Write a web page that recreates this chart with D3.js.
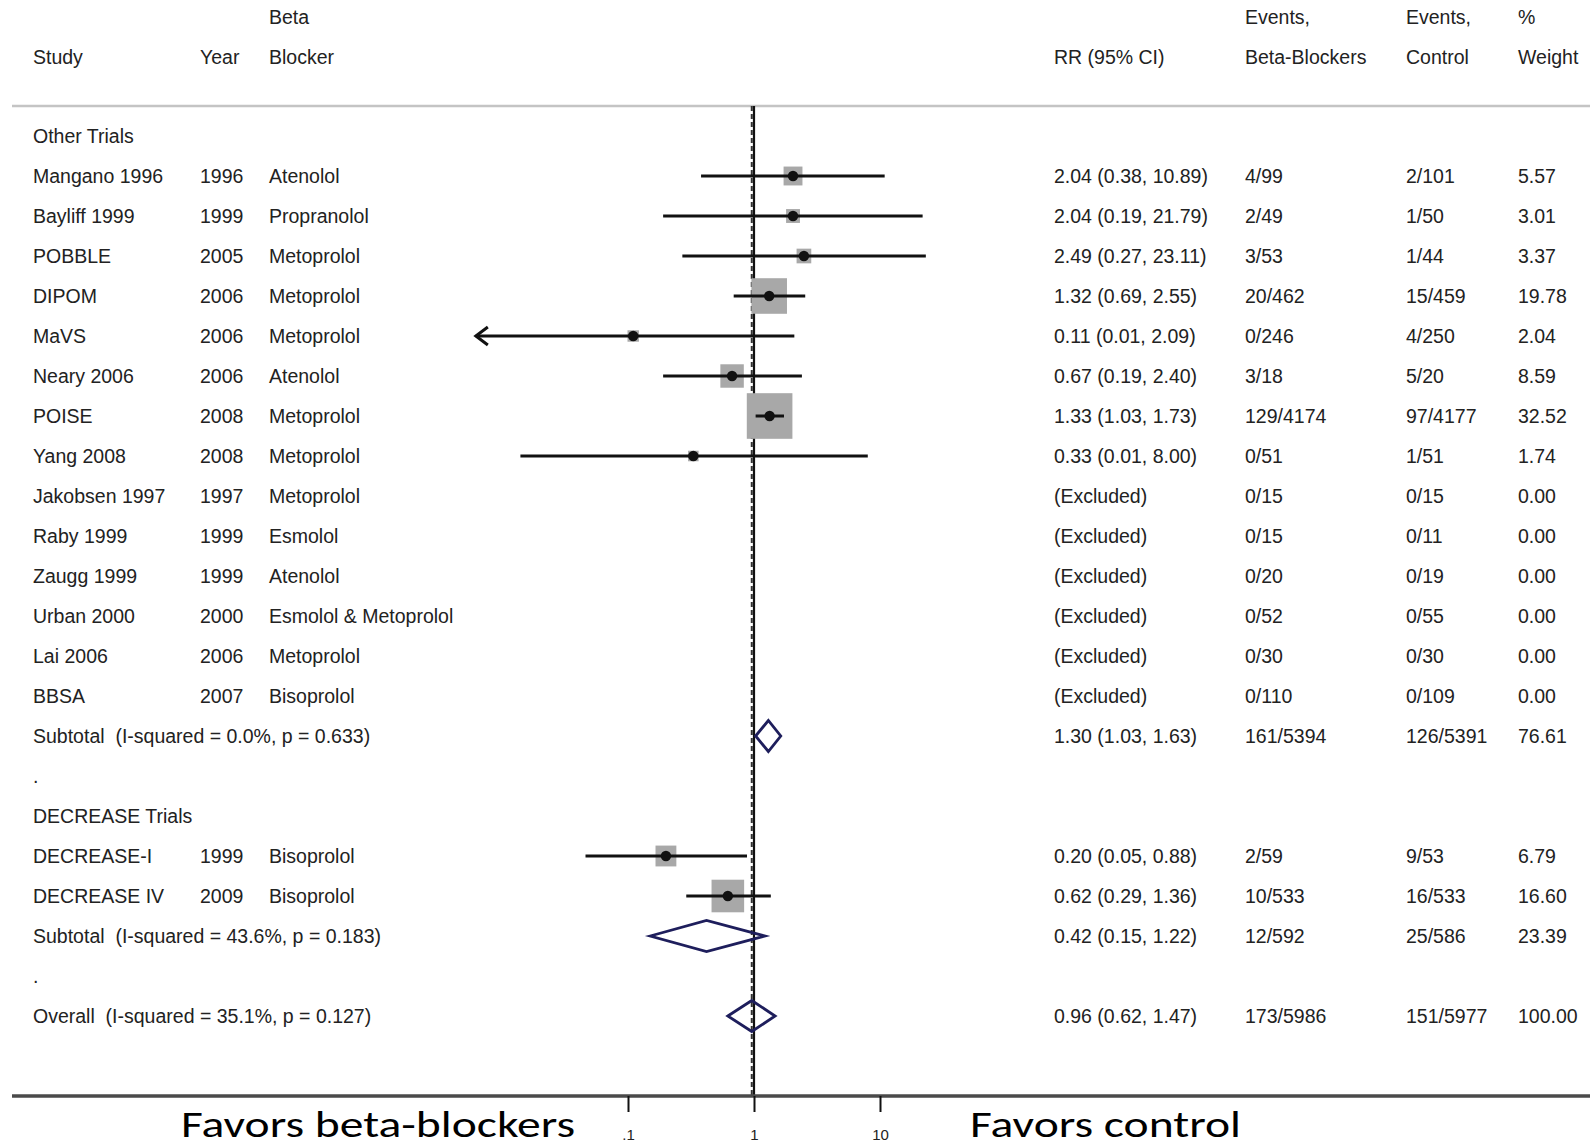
<!DOCTYPE html>
<html><head><meta charset="utf-8">
<script src="https://cdn.jsdelivr.net/npm/d3@7"></script>
<style>
body{margin:0;background:#fff;}
svg{display:block;}
text{font-family:"Liberation Sans",Arial,Helvetica,sans-serif;fill:#222;}
</style></head><body><svg id="chart" width="1590" height="1146"></svg>
<script>
// ---------------- DATA ----------------
const rowKind = ["group","study","study","study","study","study","study","study","study",
  "study","study","study","study","study","study","sub","blank","group","study","study","sub","blank","overall"];
const studyNames = ["Other Trials","Mangano 1996","Bayliff 1999","POBBLE","DIPOM","MaVS","Neary 2006","POISE","Yang 2008",
  "Jakobsen 1997","Raby 1999","Zaugg 1999","Urban 2000","Lai 2006","BBSA","Subtotal",".","DECREASE Trials",
  "DECREASE-I","DECREASE IV","Subtotal",".","Overall"];
const years = [null,1996,1999,2005,2006,2006,2006,2008,2008,1997,1999,1999,2000,2006,2007,null,null,null,1999,2009,null,null,null];
const blockers = [null,"Atenolol","Propranolol","Metoprolol","Metoprolol","Metoprolol","Atenolol","Metoprolol","Metoprolol",
  "Metoprolol","Esmolol","Atenolol","Esmolol & Metoprolol","Metoprolol","Bisoprolol",null,null,null,"Bisoprolol","Bisoprolol",null,null,null];
const rr     = [null,2.04,2.04,2.49,1.32,0.11,0.67,1.33,0.33,null,null,null,null,null,null,1.30,null,null,0.20,0.62,0.42,null,0.96];
const ciLow  = [null,0.38,0.19,0.27,0.69,0.0055,0.19,1.03,0.014,null,null,null,null,null,null,1.03,null,null,0.046,0.29,0.15,null,0.62];
const ciHigh = [null,10.89,21.79,23.11,2.55,2.09,2.40,1.73,8.00,null,null,null,null,null,null,1.63,null,null,0.88,1.36,1.22,null,1.47];
const eventsBB   = [null,"4/99","2/49","3/53","20/462","0/246","3/18","129/4174","0/51","0/15","0/15","0/20","0/52","0/30","0/110","161/5394",null,null,"2/59","10/533","12/592",null,"173/5986"];
const eventsCtrl = [null,"2/101","1/50","1/44","15/459","4/250","5/20","97/4177","1/51","0/15","0/11","0/19","0/55","0/30","0/109","126/5391",null,null,"9/53","16/533","25/586",null,"151/5977"];
const weights = [null,5.57,3.01,3.37,19.78,2.04,8.59,32.52,1.74,0,0,0,0,0,0,76.61,null,null,6.79,16.60,23.39,null,100.00];
const hetI2 = {15:"0.0", 20:"43.6", 22:"35.1"};
const hetP  = {15:"0.633", 20:"0.183", 22:"0.127"};
const tickValues = [0.1, 1, 10];
const tickLabels = [".1", "1", "10"];
const axisMin = 0.0062;   // lowest value shown on the axis (beyond -> arrow)

// ---------------- LAYOUT ----------------
const svg = d3.select("#chart");
const x = d3.scaleLog().domain([0.1, 10]).range([628, 880]);
const rows = d3.range(studyNames.length);
const y = d3.scaleLinear().domain([0, rows.length - 1]).range([136, 1016]);
const FS = 19.5;
const col = {study: 33, year: 200, blocker: 269, rr: 1054, ebb: 1245, ectl: 1406, w: 1518};
const headTop = 24, headBot = 64;
const lineTop = 106, axisY = 1096;

// header texts
const head = svg.append("g").attr("font-size", FS);
[["Beta", col.blocker, headTop], ["Events,", col.ebb, headTop], ["Events,", col.ectl, headTop], ["%", col.w, headTop],
 ["Study", col.study, headBot], ["Year", col.year, headBot], ["Blocker", col.blocker, headBot], ["RR (95% CI)", col.rr, headBot],
 ["Beta-Blockers", col.ebb, headBot], ["Control", col.ectl, headBot], ["Weight", col.w, headBot]]
 .forEach(([t, xx, yy]) => head.append("text").attr("x", xx).attr("y", yy).text(t));

// header separator line
svg.append("line").attr("x1", 12).attr("x2", 1590).attr("y1", lineTop).attr("y2", lineTop)
  .attr("stroke", "#c4c4c4").attr("stroke-width", 2.5);

// vertical reference lines
svg.append("line").attr("x1", x(rr[22])).attr("x2", x(rr[22])).attr("y1", lineTop).attr("y2", axisY)
  .attr("stroke", "#333").attr("stroke-width", 2).attr("stroke-dasharray", "5,3");
svg.append("line").attr("x1", x(1)).attr("x2", x(1)).attr("y1", lineTop).attr("y2", axisY)
  .attr("stroke", "#111").attr("stroke-width", 2.2);

// row texts
const fmt = v => v.toFixed(2);
const tg = svg.append("g").attr("font-size", FS);
rows.forEach(i => {
  const yy = y(i) + 7;
  let label = studyNames[i];
  if (hetI2[i] !== undefined) label += "\u00a0\u00a0(I-squared = " + hetI2[i] + "%, p = " + hetP[i] + ")";
  tg.append("text").attr("x", col.study).attr("y", yy).text(label);
  if (years[i] != null) tg.append("text").attr("x", col.year).attr("y", yy).text(years[i]);
  if (blockers[i] != null) tg.append("text").attr("x", col.blocker).attr("y", yy).text(blockers[i]);
  if (eventsBB[i] != null) {
    const rrTxt = rr[i] == null ? "(Excluded)" : fmt(rr[i]) + " (" + fmt(ciLow[i]) + ", " + fmt(ciHigh[i]) + ")";
    tg.append("text").attr("x", col.rr).attr("y", yy).text(rrTxt);
    tg.append("text").attr("x", col.ebb).attr("y", yy).text(eventsBB[i]);
    tg.append("text").attr("x", col.ectl).attr("y", yy).text(eventsCtrl[i]);
    tg.append("text").attr("x", col.w).attr("y", yy).text(weights[i].toFixed(2));
  }
});

// study marks
const mg = svg.append("g");
const studyRows = rows.filter(i => rowKind[i] === "study" && rr[i] != null);
studyRows.forEach(i => {
  const s = 8 * Math.sqrt(weights[i]);
  mg.append("rect").attr("x", x(rr[i]) - s / 2).attr("y", y(i) - s / 2).attr("width", s).attr("height", s)
    .attr("fill", "#a8a8a8");
});
studyRows.forEach(i => {
  const lo = Math.max(ciLow[i], axisMin);
  mg.append("line").attr("x1", x(lo)).attr("x2", x(ciHigh[i])).attr("y1", y(i)).attr("y2", y(i))
    .attr("stroke", "#111").attr("stroke-width", 3);
  if (ciLow[i] < axisMin) {
    const tx = x(axisMin);
    mg.append("path").attr("d", `M${tx + 12},${y(i) - 9} L${tx},${y(i)} L${tx + 12},${y(i) + 9}`)
      .attr("fill", "none").attr("stroke", "#111").attr("stroke-width", 3);
  }
  mg.append("circle").attr("cx", x(rr[i])).attr("cy", y(i)).attr("r", 5.2).attr("fill", "#111");
});

// diamonds
rows.filter(i => rowKind[i] === "sub" || rowKind[i] === "overall").forEach(i => {
  const h = 15.5, yc = y(i);
  mg.append("path")
    .attr("d", `M${x(ciLow[i])},${yc} L${x(rr[i])},${yc - h} L${x(ciHigh[i])},${yc} L${x(rr[i])},${yc + h} Z`)
    .attr("fill", "none").attr("stroke", "#1e1e5c").attr("stroke-width", 2.8).attr("stroke-linejoin", "miter");
});

// bottom axis
svg.append("line").attr("x1", 12).attr("x2", 1590).attr("y1", axisY).attr("y2", axisY)
  .attr("stroke", "#4a4a4a").attr("stroke-width", 3.5);
const ax = svg.append("g").attr("transform", `translate(0,${axisY})`)
  .call(d3.axisBottom(x).tickValues(tickValues).tickSize(16).tickFormat((d, k) => tickLabels[k]));
ax.select(".domain").remove();
ax.selectAll(".tick line").attr("stroke", "#111").attr("stroke-width", 2);
ax.selectAll(".tick text").attr("y", 44).attr("dy", 0).attr("font-size", 15)
  .attr("font-family", "'Liberation Sans',Arial,sans-serif").attr("fill", "#222");

// favors labels
const fav = svg.append("g").attr("font-size", 37);
fav.append("text").attr("x", 181).attr("y", 1137).attr("textLength", 394).attr("lengthAdjust", "spacingAndGlyphs")
  .style("font-family", "Carlito, Lato, 'Open Sans', sans-serif").style("fill", "#000").text("Favors beta-blockers");
fav.append("text").attr("x", 970).attr("y", 1137).attr("textLength", 271).attr("lengthAdjust", "spacingAndGlyphs")
  .style("font-family", "Carlito, Lato, 'Open Sans', sans-serif").style("fill", "#000").text("Favors control");
</script></body></html>
